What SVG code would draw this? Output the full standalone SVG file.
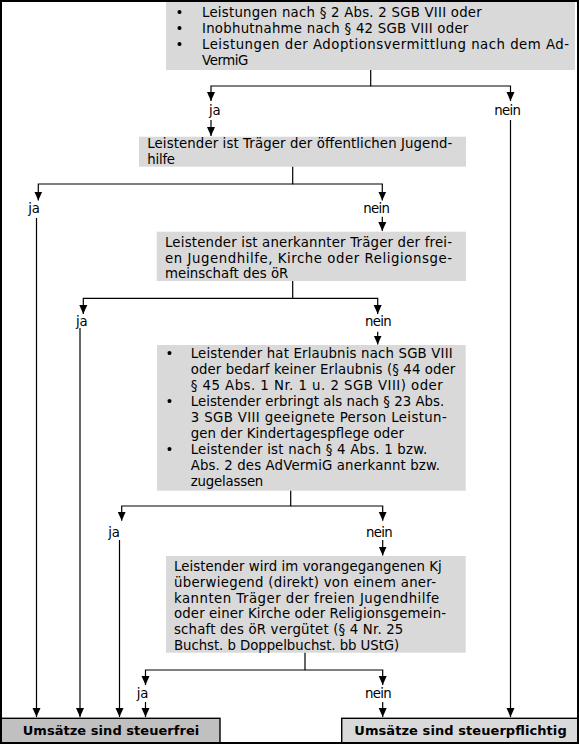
<svg xmlns="http://www.w3.org/2000/svg" width="579" height="744" viewBox="0 0 579 744">
<style>
text{font-family:"DejaVu Sans","Liberation Sans",sans-serif;font-size:13.3px;fill:#000}
.box{fill:#d9d9d9}
.b{font-weight:bold;font-size:13px}
.c{fill:none;stroke:#000;stroke-width:1.2}
</style>
<defs>
<marker id="ah" markerUnits="userSpaceOnUse" markerWidth="10" markerHeight="10" viewBox="0 -5 10 10" refX="9" refY="0" orient="auto">
<path d="M0,-4 L9,0 L0,4 z" fill="#000"/>
</marker>
</defs>
<rect x="0" y="0" width="579" height="744" fill="#fff"/>

<g id="n1">
<rect class="box" x="166" y="2" width="409" height="68"/>
<text x="175.5" y="17.3">•</text><text x="202" y="17.3" textLength="279.7" lengthAdjust="spacing">Leistungen nach § 2 Abs. 2 SGB VIII oder</text>
<text x="175.5" y="33.3">•</text><text x="202" y="33.3" textLength="266.3" lengthAdjust="spacing">Inobhutnahme nach § 42 SGB VIII oder</text>
<text x="175.5" y="49.3">•</text><text x="202" y="49.3" textLength="367" lengthAdjust="spacing">Leistungen der Adoptionsvermittlung nach dem Ad-</text>
<text x="202" y="65.3" textLength="46.3" lengthAdjust="spacing">VermiG</text>
</g>

<g id="n2">
<rect class="box" x="139" y="136.7" width="327" height="30"/>
<text x="147.3" y="148.3" textLength="305" lengthAdjust="spacing">Leistender ist Träger der öffentlichen Jugend-</text>
<text x="147.3" y="164" textLength="27.7" lengthAdjust="spacing">hilfe</text>
</g>

<g id="n3">
<rect class="box" x="156.7" y="231.7" width="309.3" height="49.3"/>
<text x="165" y="246.7" textLength="287" lengthAdjust="spacing">Leistender ist anerkannter Träger der frei-</text>
<text x="165" y="262.7" textLength="287" lengthAdjust="spacing">en Jugendhilfe, Kirche oder Religionsge-</text>
<text x="165" y="278.3" textLength="123.3" lengthAdjust="spacing">meinschaft des öR</text>
</g>

<g id="n4">
<rect class="box" x="157" y="345" width="308.7" height="145.7"/>
<text x="165.5" y="358">•</text><text x="190.7" y="358" textLength="262" lengthAdjust="spacing">Leistender hat Erlaubnis nach SGB VIII</text>
<text x="190.7" y="374" textLength="264.6" lengthAdjust="spacing">oder bedarf keiner Erlaubnis (§ 44 oder</text>
<text x="190.7" y="390" textLength="252" lengthAdjust="spacing">§ 45 Abs. 1 Nr. 1 u. 2 SGB VIII) oder</text>
<text x="165.5" y="406">•</text><text x="190.7" y="406" textLength="253.6" lengthAdjust="spacing">Leistender erbringt als nach § 23 Abs.</text>
<text x="190.7" y="422" textLength="256" lengthAdjust="spacing">3 SGB VIII geeignete Person Leistun-</text>
<text x="190.7" y="438" textLength="213.3" lengthAdjust="spacing">gen der Kindertagespflege oder</text>
<text x="165.5" y="454">•</text><text x="190.7" y="454" textLength="236.6" lengthAdjust="spacing">Leistender ist nach § 4 Abs. 1 bzw.</text>
<text x="190.7" y="470" textLength="249.3" lengthAdjust="spacing">Abs. 2 des AdVermiG anerkannt bzw.</text>
<text x="190.7" y="486" textLength="72.6" lengthAdjust="spacing">zugelassen</text>
</g>

<g id="n5">
<rect class="box" x="166" y="556" width="299.7" height="96.7"/>
<text x="174" y="571" textLength="267.7" lengthAdjust="spacing">Leistender wird im vorangegangenen Kj</text>
<text x="174" y="586.8" textLength="262" lengthAdjust="spacing">überwiegend (direkt) von einem aner-</text>
<text x="174" y="602.6" textLength="265.3" lengthAdjust="spacing">kannten Träger der freien Jugendhilfe</text>
<text x="174" y="618.4" textLength="272" lengthAdjust="spacing">oder einer Kirche oder Religionsgemein-</text>
<text x="174" y="634.2" textLength="229.3" lengthAdjust="spacing">schaft des öR vergütet (§ 4 Nr. 25</text>
<text x="174" y="650" textLength="225.3" lengthAdjust="spacing">Buchst. b Doppelbuchst. bb UStG)</text>
</g>

<g id="frei">
<rect x="0.7" y="718.3" width="219.3" height="24.5" fill="#c0c0c0" stroke="#000" stroke-width="1.4"/>
<text class="b" x="22.7" y="735" textLength="176.6" lengthAdjust="spacing">Umsätze sind steuerfrei</text>
</g>

<g id="pflichtig">
<rect x="341.7" y="718.3" width="236.6" height="24.5" fill="#d9d9d9" stroke="#000" stroke-width="1.4"/>
<text class="b" x="354.3" y="735" textLength="212.4" lengthAdjust="spacing">Umsätze sind steuerpflichtig</text>
</g>

<g id="connectors">
<path class="c" d="M370.7,70 V86 H211 V101" marker-end="url(#ah)"/>
<path class="c" d="M370.7,86 H510.5 V101" marker-end="url(#ah)"/>
<path class="c" d="M211,120 V136" marker-end="url(#ah)"/>
<path class="c" d="M510.5,120 V717" marker-end="url(#ah)"/>

<path class="c" d="M292.7,166.7 V184 H38.3 V200.5" marker-end="url(#ah)"/>
<path class="c" d="M292.7,184 H382.3 V200.5" marker-end="url(#ah)"/>
<path class="c" d="M36.5,218 V717" marker-end="url(#ah)"/>
<path class="c" d="M382.3,216.7 V231" marker-end="url(#ah)"/>

<path class="c" d="M292.7,281 V298.3 H83.3 V314" marker-end="url(#ah)"/>
<path class="c" d="M292.7,298.3 H377.7 V314" marker-end="url(#ah)"/>
<path class="c" d="M80,328 V717" marker-end="url(#ah)"/>
<path class="c" d="M377.7,331.7 V344.5" marker-end="url(#ah)"/>

<path class="c" d="M290.7,490.7 V506 H121.7 V520.7" marker-end="url(#ah)"/>
<path class="c" d="M290.7,506 H382.7 V520.7" marker-end="url(#ah)"/>
<path class="c" d="M119.5,540 V717" marker-end="url(#ah)"/>
<path class="c" d="M382.7,540 V555.5" marker-end="url(#ah)"/>

<path class="c" d="M305,652.7 V670 H145.5 V685" marker-end="url(#ah)"/>
<path class="c" d="M305,670 H382.7 V685" marker-end="url(#ah)"/>
<path class="c" d="M145.5,702 V717" marker-end="url(#ah)"/>
<path class="c" d="M382.7,702 V717" marker-end="url(#ah)"/>

<text x="209" y="115" textLength="11.7" lengthAdjust="spacing">ja</text>
<text x="494.3" y="115" textLength="26.7" lengthAdjust="spacing">nein</text>
<text x="28.3" y="212.7" textLength="11.7" lengthAdjust="spacing">ja</text>
<text x="363.3" y="212.7" textLength="26.7" lengthAdjust="spacing">nein</text>
<text x="76" y="326" textLength="11.7" lengthAdjust="spacing">ja</text>
<text x="365" y="326" textLength="26.7" lengthAdjust="spacing">nein</text>
<text x="108.3" y="536.7" textLength="11.7" lengthAdjust="spacing">ja</text>
<text x="366" y="536.7" textLength="26.7" lengthAdjust="spacing">nein</text>
<text x="136.7" y="698.3" textLength="11.7" lengthAdjust="spacing">ja</text>
<text x="365" y="698.3" textLength="26.7" lengthAdjust="spacing">nein</text>
</g>

<rect x="1" y="1" width="577" height="742" fill="none" stroke="#000" stroke-width="2"/>
</svg>
